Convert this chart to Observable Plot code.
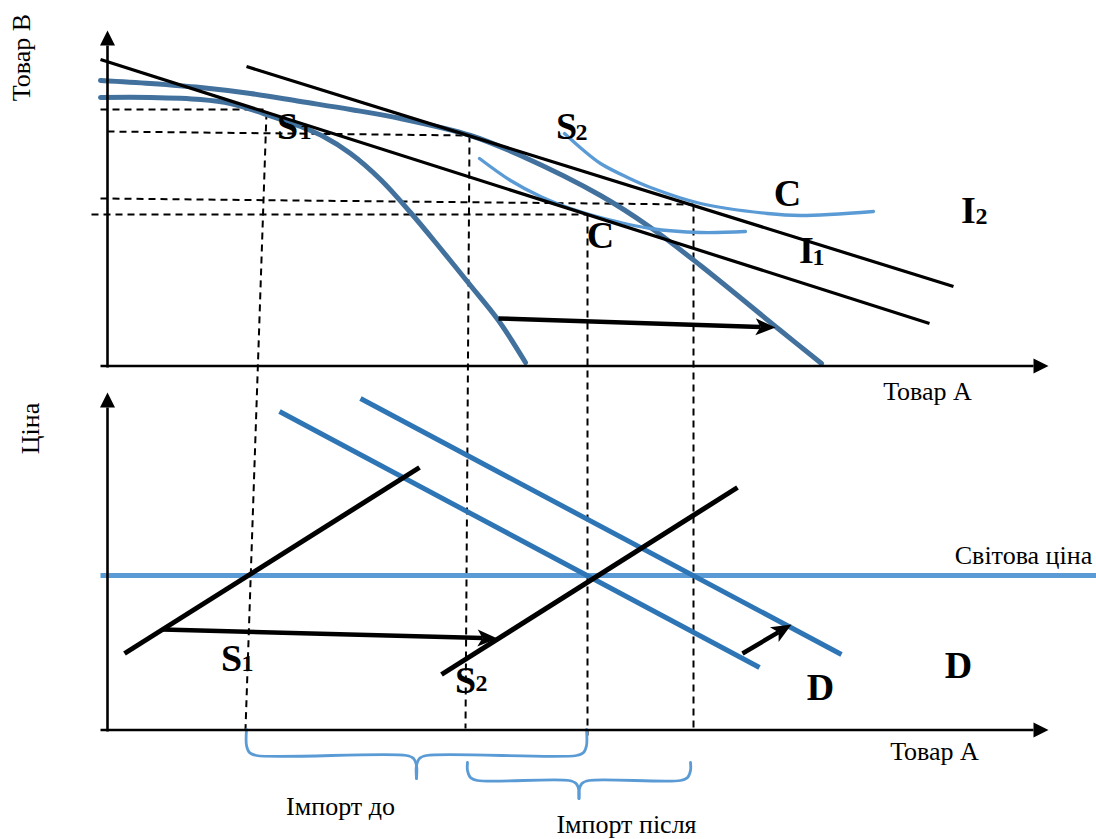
<!DOCTYPE html>
<html>
<head>
<meta charset="utf-8">
<script src="https://cdn.jsdelivr.net/npm/d3@7"></script>
<script src="https://cdn.jsdelivr.net/npm/@observablehq/plot@0.6"></script>
<style>
  html, body { margin: 0; padding: 0; background: #fff; }
  #chart svg { display: block; }
</style>
</head>
<body>
<div id="chart"></div>
<script>
// ---- Diagram data (diagram units: x to the right, y downward) ----
// Upper panel: budget (price) lines I1, I2
const budgetLines = [
  { name: "I1", x1: 100, y1: 59, x2: 929, y2: 323 },
  { name: "I2", x1: 246, y1: 66, x2: 953, y2: 286 }
];
// Production possibility frontiers (before / after)
const ppf1 = [[100,97],[150,97],[200,99],[230,103],[263,113],[300,126],[323,136],[350,153],[380,179],[410,212],[440,248],[470,285],[498,320],[525,362]];
const ppf2 = [[100,80],[150,83],[200,87],[250,93],[300,101],[350,109],[400,118],[470,135],[520,155],[600,195],[650,227],[700,265],[780,330],[821,363]];
// Indifference curves (C)
const indiff1 = [[479,158],[510,180],[540,196],[570,208],[600,217],[650,228],[700,232],[745,231]];
const indiff2 = [[564,133],[582,149],[600,163],[627,177],[650,187],[700,203],[767,213],[800,215],[873,211]];
// Dashed guide lines
const guidesH = [
  { x1: 100, y1: 109, x2: 267, y2: 109 },
  { x1: 107, y1: 131, x2: 470, y2: 135 },
  { x1: 100, y1: 198, x2: 693, y2: 204 },
  { x1: 91,  y1: 214, x2: 587, y2: 214 }
];
const guidesV = [
  { x1: 266, y1: 112, x2: 245, y2: 729 },
  { x1: 469, y1: 135, x2: 465, y2: 728 },
  { x1: 587, y1: 214, x2: 587, y2: 735 },
  { x1: 693, y1: 204, x2: 693, y2: 728 }
];
// Lower panel: world price, supply and demand
const worldPrice = [{ x1: 100, y1: 575, x2: 1096, y2: 575 }];
const supplyLines = [
  { name: "S1", x1: 124, y1: 653, x2: 419, y2: 467 },
  { name: "S2", x1: 441, y1: 674, x2: 737, y2: 487 }
];
const demandLines = [
  { name: "D1", x1: 279, y1: 411, x2: 759, y2: 667 },
  { name: "D2", x1: 360, y1: 398, x2: 841, y2: 654 }
];
// Axes (with arrow heads at x2,y2)
const axes = [
  { x1: 107, y1: 367, x2: 107, y2: 30 },
  { x1: 100, y1: 365.5, x2: 1048, y2: 365.5 },
  { x1: 107, y1: 731, x2: 107, y2: 392 },
  { x1: 100, y1: 729.5, x2: 1048, y2: 729.5 }
];
// Shift arrows
const shiftArrows = [
  { x1: 498, y1: 318, x2: 775, y2: 327 },
  { x1: 162, y1: 629, x2: 497, y2: 638 },
  { x1: 742, y1: 653, x2: 791, y2: 624 }
];
// Import braces
const braces = [
  { x0: 246, x1: 586, ytop: 729, ymid: 755, ybot: 778 },
  { x0: 467, x1: 690, ytop: 762, ymid: 780, ybot: 798 }
];
// Text
const plainLabels = [
  { t: "Товар В", x: 21, y: 57, r: -90 },
  { t: "Ціна", x: 30, y: 428, r: -90 },
  { t: "Товар А", x: 927, y: 391, r: 0 },
  { t: "Товар А", x: 934, y: 751, r: 0 },
  { t: "Світова ціна", x: 1023, y: 555, r: 0 },
  { t: "Імпорт до", x: 340, y: 806, r: 0 },
  { t: "Імпорт після", x: 626, y: 824, r: 0 }
];
const letterLabels = [
  { t: "S", x: 287, y: 126 }, { t: "S", x: 566, y: 126 },
  { t: "C", x: 787, y: 193 }, { t: "C", x: 600, y: 235 },
  { t: "I", x: 968, y: 210 }, { t: "I", x: 806, y: 250 },
  { t: "S", x: 231, y: 658 }, { t: "S", x: 465, y: 680 },
  { t: "D", x: 820, y: 687 }, { t: "D", x: 958, y: 665 }
];
const subLabels = [
  { t: "1", x: 305, y: 131 }, { t: "2", x: 581, y: 132 },
  { t: "2", x: 981, y: 216 }, { t: "1", x: 818, y: 257 },
  { t: "1", x: 247, y: 663 }, { t: "2", x: 481, y: 683 }
];

// ---- helpers to build shapes from the data ----
const W = 1096, H = 839;
const pts = (arr, id) => arr.map(([x, y]) => ({ x, y, id }));

function arrowParts(list, len, wid, notch, prefix) {
  const shafts = [], heads = [];
  list.forEach((a, i) => {
    const dx = a.x2 - a.x1, dy = a.y2 - a.y1, L = Math.hypot(dx, dy);
    const ux = dx / L, uy = dy / L, nx = -uy, ny = ux;
    const bx = a.x2 - ux * len, by = a.y2 - uy * len;
    const kx = a.x2 - ux * len * notch, ky = a.y2 - uy * len * notch;
    shafts.push({ x1: a.x1, y1: a.y1, x2: kx, y2: ky });
    const id = prefix + i;
    heads.push({ x: a.x2, y: a.y2, id },
               { x: bx + nx * wid / 2, y: by + ny * wid / 2, id },
               { x: kx, y: ky, id },
               { x: bx - nx * wid / 2, y: by - ny * wid / 2, id });
  });
  return { shafts, heads };
}

function bracePoints(b, i) {
  const xc = (b.x0 + b.x1) / 2, r = 10, k = 0.293;
  const half = (xe, s, id) => [
    [xe, b.ytop], [xe, b.ymid - r], [xe + s * r * k, b.ymid - r * k], [xe + s * r, b.ymid],
    [xc - s * r, b.ymid], [xc - s * r * k, b.ymid + r * k], [xc, b.ymid + r], [xc, b.ybot]
  ].map(([x, y]) => ({ x, y, id }));
  return [...half(b.x0, 1, "b" + i + "L"), ...half(b.x1, -1, "b" + i + "R")];
}

const axisParts = arrowParts(axes, 15, 15, 1.0, "ax");
const shiftParts = arrowParts(shiftArrows, 20, 17, 0.75, "sh");
const bracePts = braces.flatMap(bracePoints);

const serif = "Liberation Serif, Times New Roman, serif";
const C_PPF = "#41719c", C_DEM = "#2e75b6", C_LIGHT = "#5b9bd5";

const chart = Plot.plot({
  width: W, height: H,
  margin: 0,
  x: { domain: [0, W], range: [0, W], axis: null },
  y: { domain: [0, H], range: [0, H], axis: null },
  style: { background: "white", overflow: "visible" },
  marks: [
    // dashed guides
    Plot.link(guidesH, { x1: "x1", y1: "y1", x2: "x2", y2: "y2", stroke: "black", strokeWidth: 2, strokeDasharray: "7,5" }),
    Plot.link(guidesV, { x1: "x1", y1: "y1", x2: "x2", y2: "y2", stroke: "black", strokeWidth: 2, strokeDasharray: "7,5" }),
    // upper panel curves
    Plot.line(pts(ppf2, "ppf2"), { x: "x", y: "y", z: "id", curve: "catmull-rom", stroke: C_PPF, strokeWidth: 5 }),
    Plot.line(pts(ppf1, "ppf1"), { x: "x", y: "y", z: "id", curve: "catmull-rom", stroke: C_PPF, strokeWidth: 5 }),
    Plot.line([...pts(indiff1, "c1"), ...pts(indiff2, "c2")], { x: "x", y: "y", z: "id", curve: "catmull-rom", stroke: C_LIGHT, strokeWidth: 3.3 }),
    Plot.link(budgetLines, { x1: "x1", y1: "y1", x2: "x2", y2: "y2", stroke: "black", strokeWidth: 3.2 }),
    // lower panel
    Plot.link(worldPrice, { x1: "x1", y1: "y1", x2: "x2", y2: "y2", stroke: C_LIGHT, strokeWidth: 5 }),
    Plot.link(demandLines, { x1: "x1", y1: "y1", x2: "x2", y2: "y2", stroke: C_DEM, strokeWidth: 5 }),
    Plot.link(supplyLines, { x1: "x1", y1: "y1", x2: "x2", y2: "y2", stroke: "black", strokeWidth: 5 }),
    // braces
    Plot.line(bracePts, { x: "x", y: "y", z: "id", curve: "catmull-rom", stroke: C_LIGHT, strokeWidth: 2.8 }),
    // axes
    Plot.link(axisParts.shafts, { x1: "x1", y1: "y1", x2: "x2", y2: "y2", stroke: "black", strokeWidth: 2.6 }),
    Plot.line(axisParts.heads, { x: "x", y: "y", z: "id", fill: "black", stroke: "none" }),
    // shift arrows
    Plot.link(shiftParts.shafts, { x1: "x1", y1: "y1", x2: "x2", y2: "y2", stroke: "black", strokeWidth: 4.5 }),
    Plot.line(shiftParts.heads, { x: "x", y: "y", z: "id", fill: "black", stroke: "none" }),
    // texts
    Plot.text(plainLabels, { x: "x", y: "y", text: "t", rotate: "r", fontSize: 26, fontFamily: serif, fill: "black" }),
    Plot.text(letterLabels, { x: "x", y: "y", text: "t", fontSize: 38, fontWeight: "bold", fontFamily: serif, fill: "black" }),
    Plot.text(subLabels, { x: "x", y: "y", text: "t", fontSize: 24, fontWeight: "bold", fontFamily: serif, fill: "black" })
  ]
});
document.getElementById("chart").appendChild(chart);
</script>
</body>
</html>
